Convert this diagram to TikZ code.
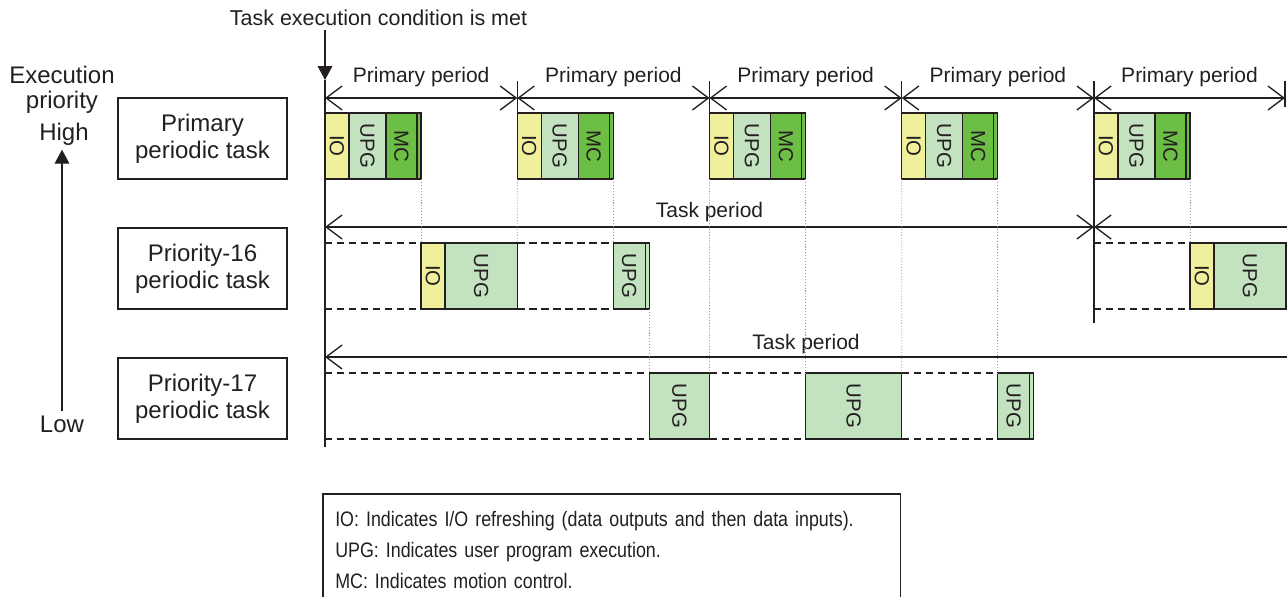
\documentclass[tikz,border=0pt]{standalone}
\usepackage{fontspec}
\setmainfont{Liberation Sans}
\usetikzlibrary{positioning, arrows.meta}

\definecolor{inkline}{HTML}{231F20}
\definecolor{ioyellow}{HTML}{F0F09C}
\definecolor{upggreen}{HTML}{C3E2C0}
\definecolor{mcgreen}{HTML}{6CBE45}

\begin{document}
\begin{tikzpicture}[
    x=0.75pt, y=-0.75pt,
    color=inkline,
    slot/.style={draw=inkline, line width=1pt, minimum height=49.5pt, inner sep=0pt, outer sep=0pt, anchor=north west, font=\fontsize{15.3}{16}\selectfont},
    io/.style={slot, fill=ioyellow, minimum width=18pt},
    upg/.style={slot, fill=upggreen},
    mc/.style={slot, fill=mcgreen, minimum width=23.25pt},
    tailbox/.style={slot, minimum width=3pt},
    taskbox/.style={draw=inkline, line width=1pt, minimum width=126.75pt, minimum height=60.75pt, align=center, font=\fontsize{18}{20}\selectfont},
    side/.style={align=center, font=\fontsize{18}{18.75}\selectfont},
    caption/.style={font=\fontsize{15.75}{19}\selectfont},
    legendbox/.style={anchor=north west, text width=414.75pt, inner xsep=9pt, inner ysep=13pt, align=left, font=\fontsize{15.75}{23.25}\selectfont\addfontfeatures{FakeStretch=0.85}},
    timeline/.style={line width=1.1pt},
    periodline/.style={{Straight Barb[length=12pt, width=18pt]}-{Straight Barb[length=12pt, width=18pt]}, line width=1pt},
    openleft/.style={{Straight Barb[length=12pt, width=18pt]}-, line width=1pt},
    cue/.style={-{Triangle[length=10.5pt, width=11pt]}, line width=1pt},
    idle/.style={dash pattern=on 5.5pt off 3.5pt, line width=0.9pt},
    guide/.style={draw=gray!80, dash pattern=on 0.8pt off 1.4pt, line width=0.7pt},
]
    \useasboundingbox (0,0) rectangle (1287,596);

    % Trigger of the task
    \node[font=\fontsize{16.1}{19}\selectfont, anchor=base] (trigger) at (378.5,25) {Task execution condition is met};

    % Priority scale
    \node[side] (prio) at (62,90) {Execution\\priority};
    \node[side, anchor=base] (high) at (64,140) {High};
    \node[side, anchor=base] (low) at (62,432) {Low};
    \draw[cue] (low.north) -- (low.north |- high.south);

    % Task names
    \node[taskbox] (taskp) at (202.5,138.5) {Primary\\periodic task};
    \node[taskbox] (task16) at (202.5,268.5) {Priority-16\\periodic task};
    \node[taskbox] (task17) at (202.5,398.5) {Priority-17\\periodic task};

    % Time axis
    \coordinate (k1) at (325,80);
    \coordinate (kend) at (325,447);
    \draw[cue] (k1 |- trigger.south) -- (k1);
    \draw[timeline] (k1) -- (kend);

    % Primary periodic task
    \foreach \n/\x in {1/325, 2/517.25, 3/709.5, 4/901.75, 5/1094} {
        \node[io] (io\n) at (\x,113) {\rotatebox{-90}{IO}};
        \node[upg, minimum width=27.75pt, right=0pt of io\n] (upg\n) {\rotatebox{-90}{UPG}};
        \node[mc, right=0pt of upg\n] (mc\n) {\rotatebox{-90}{MC}};
        \node[tailbox, fill=mcgreen, right=0pt of mc\n] (end\n) {};
        \coordinate (a\n) at (\x,98);
        \coordinate (h\n) at (\x,81);
    }
    \coordinate (a6) at (1285,98);
    \coordinate (h6) at (1285,81);
    \coordinate (h6b) at (1285,107);
    \coordinate (k5b) at (1094,323);

    \foreach \n in {2,3,4}
        \draw[timeline] (h\n) -- (io\n.north west);
    \draw[timeline] (h5) -- (k5b);
    \draw[timeline] (h6) -- (h6b);

    \foreach \n [count=\m from 2] in {1,...,5}
        \draw[periodline] (a\n) -- node[midway, caption, anchor=base, yshift=12pt] {Primary period} (a\m);

    % Priority-16 periodic task
    \node[io] (io16a) at (421,243) {\rotatebox{-90}{IO}};
    \node[upg, minimum width=54.19pt, right=0pt of io16a] (upg16a) {\rotatebox{-90}{UPG}};
    \node[upg, minimum width=24pt] (upg16b) at (613.25,243) {\rotatebox{-90}{UPG}};
    \node[tailbox, fill=upggreen, right=0pt of upg16b] (end16b) {};
    \node[io] (io16c) at (1190,243) {\rotatebox{-90}{IO}};
    \node[upg, minimum width=54pt, right=0pt of io16c] (upg16c) {\rotatebox{-90}{UPG}};

    \coordinate (r16) at (325,243);
    \coordinate (r16b) at (325,309);
    \draw[idle] (r16) -- (io16a.north west);
    \draw[idle] (r16b) -- (io16a.south west);
    \draw[idle] (upg16a.north east) -- (upg16b.north west);
    \draw[idle] (upg16a.south east) -- (upg16b.south west);
    \draw[idle] (k5b |- r16) -- (io16c.north west);
    \draw[idle] (k5b |- r16b) -- (io16c.south west);

    \coordinate (b1) at (325,227);
    \coordinate (b2) at (1094,227);
    \coordinate (b3) at (1287,227);
    \draw[periodline] (b1) -- node[midway, caption, anchor=base, yshift=7.5pt] {Task period} (b2);
    \draw[openleft] (b2) -- (b3);

    % Priority-17 periodic task
    \node[upg, minimum width=45.19pt] (upg17a) at (649.25,373) {\rotatebox{-90}{UPG}};
    \node[upg, minimum width=72.19pt] (upg17b) at (805.5,373) {\rotatebox{-90}{UPG}};
    \node[upg, minimum width=24pt] (upg17c) at (997.75,373) {\rotatebox{-90}{UPG}};
    \node[tailbox, fill=upggreen, right=0pt of upg17c] (end17c) {};

    \coordinate (r17) at (325,373);
    \coordinate (r17b) at (325,439);
    \draw[idle] (r17) -- (upg17a.north west);
    \draw[idle] (r17b) -- (upg17a.south west);
    \draw[idle] (upg17a.north east) -- (upg17b.north west);
    \draw[idle] (upg17a.south east) -- (upg17b.south west);
    \draw[idle] (upg17b.north east) -- (upg17c.north west);
    \draw[idle] (upg17b.south east) -- (upg17c.south west);

    \coordinate (c1) at (325,357);
    \coordinate (c2) at (1287,357);
    \draw[openleft] (c1) -- node[midway, caption, anchor=base, yshift=6pt] {Task period} (c2);

    % Hand-over between tasks
    \draw[guide] (end1.south east) -- (io16a.north west);
    \draw[guide] (io2.south west) -- (upg16a.north east);
    \draw[guide] (end2.south east) -- (upg16b.north west);
    \draw[guide] (end16b.south east) -- (upg17a.north west);
    \draw[guide] (io3.south west) -- (upg17a.north east);
    \draw[guide] (end3.south east) -- (upg17b.north west);
    \draw[guide] (io4.south west) -- (upg17b.north east);
    \draw[guide] (end4.south east) -- (upg17c.north west);
    \draw[guide] (end5.south east) -- (io16c.north west);

    % Legend
    \node[legendbox] (legend) at (323,494) {IO: Indicates I/O refreshing (data outputs and then data inputs).\\UPG: Indicates user program execution.\\MC: Indicates motion control.};
    \draw[line width=1pt] (legend.south west) |- (legend.north east) -- (legend.south east);

\end{tikzpicture}
\end{document}
